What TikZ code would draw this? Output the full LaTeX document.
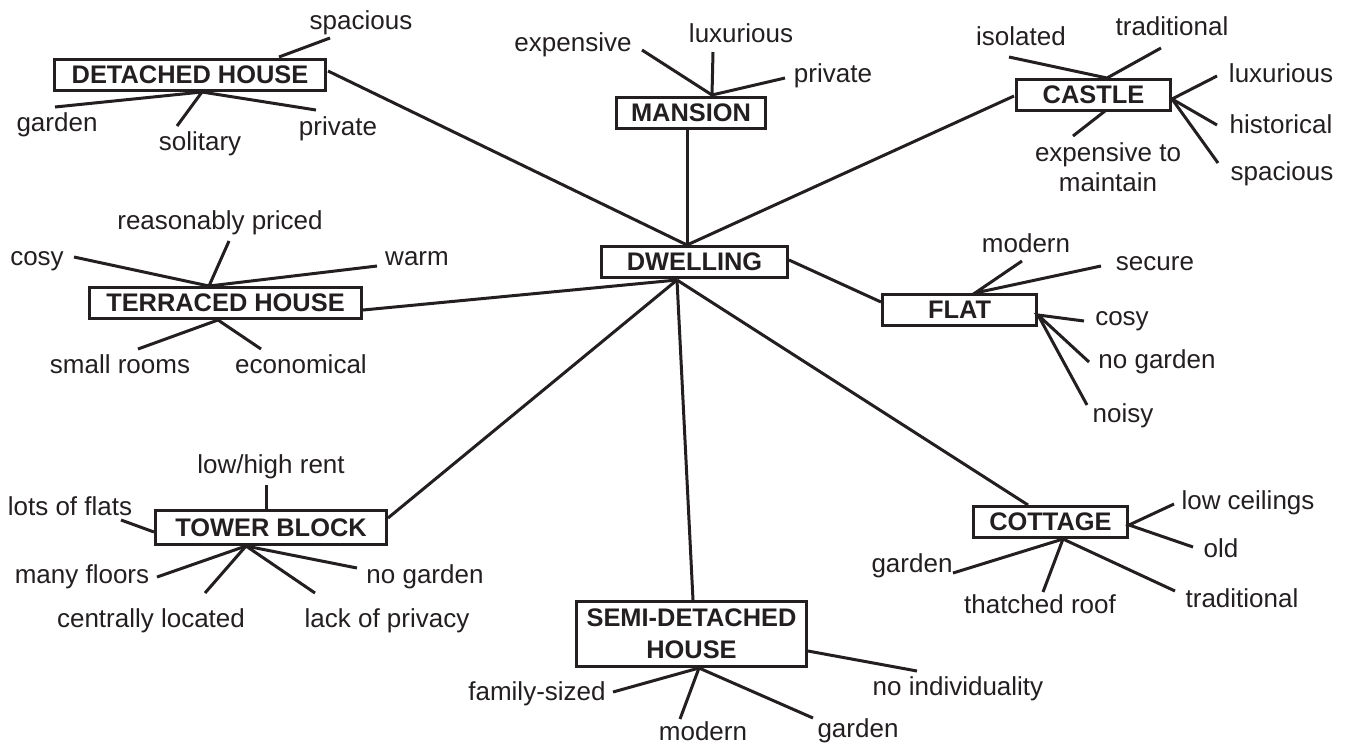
\documentclass[tikz,border=0pt]{standalone}
\usepackage{fontspec}
\setmainfont{Liberation Sans}
\definecolor{ink}{RGB}{35,31,32}
\tikzset{
  lbl/.style={inner sep=0pt, font=\fontsize{13}{15}\selectfont, text=ink, anchor=base},
  box/.style={draw=ink, line width=1.5pt, inner sep=0pt, minimum height=15.5pt,
    font=\bfseries\fontsize{12.7}{16}\selectfont, text=ink, align=center},
  spoke/.style={draw=ink, line width=1.5pt},
}
\begin{document}
\begin{tikzpicture}[x=0.5pt,y=-0.5pt]
\useasboundingbox (0,0) rectangle (1349,746);
% ---------- boxes ----------
\node[box, minimum width=135.5pt] (dh) at (190,75) {DETACHED HOUSE};
\node[box, minimum width=74.5pt] (man) at (691,113) {MANSION};
\node[box, minimum width=77pt] (cas) at (1093.5,94.5) {CASTLE};
\node[box, minimum width=136pt] (ter) at (225.5,303) {TERRACED HOUSE};
\node[box, minimum width=93pt] (dw) at (694.5,262) {DWELLING};
\node[box, minimum width=77pt] (fl) at (959.5,310) {FLAT};
\node[box, minimum width=115.5pt, minimum height=17pt] (tb) at (271,527.5) {TOWER BLOCK};
\node[box, minimum width=77pt] (cot) at (1050.5,522) {COTTAGE};
\node[box, minimum width=115pt, minimum height=32.5pt] (sd) at (691.5,634) {SEMI-DETACHED\\HOUSE};
% ---------- labels ----------
% detached house
\node[lbl] (dh1) at (361,29) {spacious};
\node[lbl] (dh2) at (57,131) {garden};
\node[lbl] (dh3) at (200,150) {solitary};
\node[lbl] (dh4) at (338,135) {private};
% mansion
\node[lbl] (m1) at (573,51) {expensive};
\node[lbl] (m2) at (741,42) {luxurious};
\node[lbl] (m3) at (833,82) {private};
% castle
\node[lbl] (c1) at (1021,45) {isolated};
\node[lbl] (c2) at (1172,35) {traditional};
\node[lbl] (c3) at (1281,82) {luxurious};
\node[lbl] (c4) at (1281,133) {historical};
\node[lbl] (c5) at (1282,180) {spacious};
\node[lbl, anchor=center, align=center, font=\fontsize{13}{15}\selectfont] (c6) at (1108,167.5) {expensive to\\maintain};
% terraced house
\node[lbl] (t1) at (220,229) {reasonably priced};
\node[lbl] (t2) at (37,265) {cosy};
\node[lbl] (t3) at (417,265) {warm};
\node[lbl] (t4) at (120,373) {small rooms};
\node[lbl] (t5) at (301,373) {economical};
% flat
\node[lbl] (f1) at (1026,252) {modern};
\node[lbl] (f2) at (1155,270) {secure};
\node[lbl] (f3) at (1122,325) {cosy};
\node[lbl] (f4) at (1157,368) {no garden};
\node[lbl] (f5) at (1123,422) {noisy};
% tower block
\node[lbl] (b1) at (271,473) {low/high rent};
\node[lbl] (b2) at (70,515) {lots of flats};
\node[lbl] (b3) at (82,583) {many floors};
\node[lbl] (b4) at (425,583) {no garden};
\node[lbl] (b5) at (151,627) {centrally located};
\node[lbl] (b6) at (387,627) {lack of privacy};
% semi-detached
\node[lbl] (s1) at (537,700) {family-sized};
\node[lbl] (s2) at (958,695) {no individuality};
\node[lbl] (s3) at (703,740) {modern};
\node[lbl] (s4) at (858,737) {garden};
% cottage
\node[lbl] (k1) at (1248,509) {low ceilings};
\node[lbl] (k2) at (1221,557) {old};
\node[lbl] (k3) at (1242,607) {traditional};
\node[lbl] (k4) at (912,572) {garden};
\node[lbl] (k5) at (1040,613) {thatched roof};
% ---------- connector end points ----------
\path
  % dwelling
  (687,245) coordinate (dwT)  (677,280) coordinate (dwB)
  (789,260) coordinate (dwR)
  % detached
  (328,71) coordinate (dhR)   (202,92) coordinate (dhJ)  (279,57) coordinate (dhT)
  (330,38) coordinate (dh1e)  (55,107) coordinate (dh2e)
  (177,126) coordinate (dh3e) (316,110) coordinate (dh4e)
  % mansion
  (687,130) coordinate (manB) (712,95) coordinate (manJ)
  (642,50) coordinate (m1e) (713,52) coordinate (m2e) (785,78) coordinate (m3e)
  % castle
  (1014,96) coordinate (casL) (1107,78) coordinate (casJ)
  (1172,99) coordinate (casR) (1105,111) coordinate (casB)
  (1009,57) coordinate (c1e) (1161,48) coordinate (c2e) (1217,76) coordinate (c3e)
  (1217,125) coordinate (c4e) (1218,163) coordinate (c5e) (1073,136) coordinate (c6e)
  % terraced
  (363,310) coordinate (terR) (209,286) coordinate (terJ) (218,320) coordinate (terB)
  (229,241) coordinate (t1e) (74,257) coordinate (t2e) (377,266) coordinate (t3e)
  (138,349) coordinate (t4e) (261,349) coordinate (t5e)
  % flat
  (881,302) coordinate (flL) (975,293) coordinate (flJ) (1038,315) coordinate (flR)
  (1022,261) coordinate (f1e) (1101,266) coordinate (f2e) (1084,321) coordinate (f3e)
  (1089,362) coordinate (f4e) (1087,405) coordinate (f5e)
  % tower block
  (388,518) coordinate (tbR) (266,509) coordinate (tbT) (154,532) coordinate (tbL)
  (246,546) coordinate (tbJ)
  (266,485) coordinate (b1e) (121,520) coordinate (b2e) (157,577) coordinate (b3e)
  (357,568) coordinate (b4e) (205,593) coordinate (b5e) (315,593) coordinate (b6e)
  % semi-detached
  (693,600) coordinate (sdT) (699,668) coordinate (sdJ) (808,651) coordinate (sdR)
  (613,692) coordinate (s1e) (917,671) coordinate (s2e) (680,719) coordinate (s3e)
  (813,718) coordinate (s4e)
  % cottage
  (1028,505) coordinate (cotT) (1063,539) coordinate (cotJ) (1129,525) coordinate (cotR)
  (1174,504) coordinate (k1e) (1193,547) coordinate (k2e) (1175,591) coordinate (k3e)
  (953,573) coordinate (k4e) (1043,592) coordinate (k5e);
% ---------- connectors ----------
% hub spokes
\draw[spoke] (dhR) -- (dwT);
\draw[spoke] (manB) -- (dwT);
\draw[spoke] (casL) -- (dwT);
\draw[spoke] (terR) -- (dwB);
\draw[spoke] (dwR) -- (flL);
\draw[spoke] (tbR) -- (dwB);
\draw[spoke] (sdT) -- (dwB);
\draw[spoke] (cotT) -- (dwB);
% detached
\draw[spoke] (dhT) -- (dh1e);
\draw[spoke] (dh2e) -- (dhJ) -- (dh4e);
\draw[spoke] (dh3e) -- (dhJ);
% mansion
\draw[spoke] (m1e) -- (manJ) -- (m3e);
\draw[spoke] (m2e) -- (manJ);
% castle
\draw[spoke] (c1e) -- (casJ) -- (c2e);
\draw[spoke] (c3e) -- (casR) -- (c4e);
\draw[spoke] (c5e) -- (casR);
\draw[spoke] (c6e) -- (casB);
% terraced
\draw[spoke] (t2e) -- (terJ) -- (t3e);
\draw[spoke] (t1e) -- (terJ);
\draw[spoke] (t4e) -- (terB) -- (t5e);
% flat
\draw[spoke] (f1e) -- (flJ) -- (f2e);
\draw[spoke] (f3e) -- (flR) -- (f4e);
\draw[spoke] (f5e) -- (flR);
% tower block
\draw[spoke] (b1e) -- (tbT);
\draw[spoke] (b2e) -- (tbL);
\draw[spoke] (b3e) -- (tbJ) -- (b4e);
\draw[spoke] (b5e) -- (tbJ) -- (b6e);
% semi-detached
\draw[spoke] (s1e) -- (sdJ) -- (s4e);
\draw[spoke] (s3e) -- (sdJ);
\draw[spoke] (sdR) -- (s2e);
% cottage
\draw[spoke] (k1e) -- (cotR) -- (k2e);
\draw[spoke] (k4e) -- (cotJ) -- (k3e);
\draw[spoke] (k5e) -- (cotJ);
\end{tikzpicture}
\end{document}
